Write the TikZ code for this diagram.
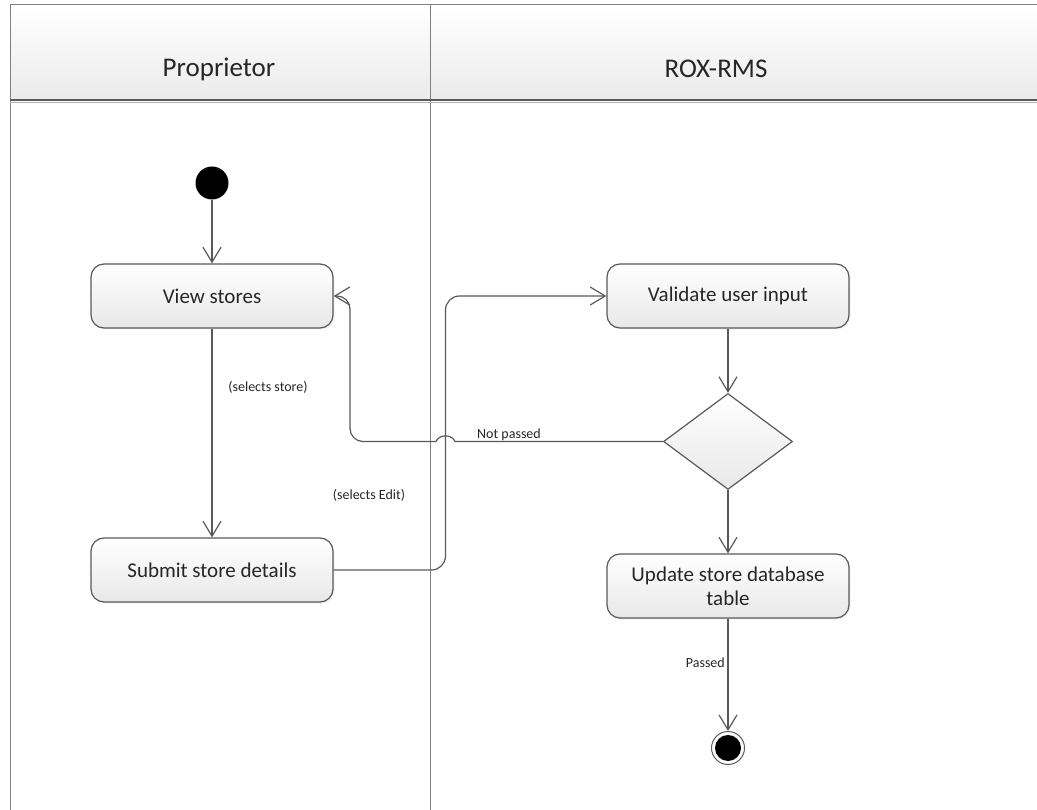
\documentclass[tikz,border=0pt]{standalone}
\usepackage{fontspec}
\setmainfont{Carlito}
\usetikzlibrary{arrows.meta,shapes.geometric,shadows}

\definecolor{edge}{HTML}{595959}
\definecolor{ink}{HTML}{262626}
\definecolor{lanegray}{HTML}{7F7F7F}

\begin{document}
\begin{tikzpicture}[x=1pt,y=-1pt,
  action/.style={draw=edge, line width=1.2pt, rounded corners=13pt,
    minimum width=242pt, minimum height=64pt, inner sep=0pt,
    top color=white, bottom color=black!9, text=ink, align=center,
    font=\fontsize{21}{24}\selectfont,
    drop shadow={opacity=0.12, shadow xshift=1.5pt, shadow yshift=-1.5pt}},
  decision/.style={diamond, draw=edge, line width=1.2pt, inner sep=0pt,
    minimum width=129pt, minimum height=96pt,
    top color=white, bottom color=black!9},
  flow/.style={draw=edge, line width=1.2pt,
    -{Straight Barb[length=15pt,width=18pt]}},
  guard/.style={font=\fontsize{14}{16}\selectfont, text=ink, inner sep=1pt},
  lanetitle/.style={font=\fontsize{27}{30}\selectfont, text=ink},
]
\useasboundingbox (0,0) rectangle (1037,810);

% swimlane frame and header
\shade[top color=white, bottom color=black!8] (10,5) rectangle (1037,101);
\draw[lanegray, line width=1pt] (1037,5) -- (10,5) -- (10,810);
\draw[lanegray, line width=1pt] (430,5) -- (430,810);
\draw[edge, line width=1.3pt] (10,100) -- (1037,100);
\draw[black!30, line width=1.2pt] (10,102.2) -- (1037,102.2);
\node[lanetitle] (laneA) at (219,69) {Proprietor};
\node[lanetitle] (laneB) at (716,69) {ROX-RMS};

% activities
\node[circle, fill=black, minimum size=33pt, inner sep=0pt] (start) at (212,183) {};
\node[action] (view) at (212,296) {View stores};
\node[action] (submit) at (212,570) {Submit store details};
\node[action] (validate) at (728,296) {Validate user input};
\node[decision] (dec) at (728,441.5) {};
\node[action] (update) at (728,586) {Update store database\\table};
\node[circle, draw=edge, line width=1pt, minimum size=33pt, inner sep=0pt] (end) at (728,748) {};
\node[circle, fill=black, minimum size=26pt, inner sep=0pt] (endcore) at (end) {};

% transitions
\draw[flow] (start) -- (view);
\draw[flow] (view) -- (submit);
\draw[flow, rounded corners=14pt] (submit.east) -- (445.5,570) -- (445.5,296) -- (validate.west);
\draw[flow] (validate) -- (dec);
\draw[flow] (dec) -- (update);
\draw[flow] (update) -- (end);
\draw[flow] (dec.west) -- (455,441.5)
  .. controls (452,434) and (439,434) .. (436,441.5)
  [rounded corners=13pt] -- (350,441.5) -- (350,296) -- (view.east);

% guards
\node[guard] (gstore) at (268,387) {(selects store)};
\node[guard] (gedit) at (369,495) {(selects Edit)};
\node[guard] (gfail) at (509,435) {Not passed};
\node[guard, anchor=east] (gpass) at (726,663) {Passed};
\end{tikzpicture}
\end{document}
